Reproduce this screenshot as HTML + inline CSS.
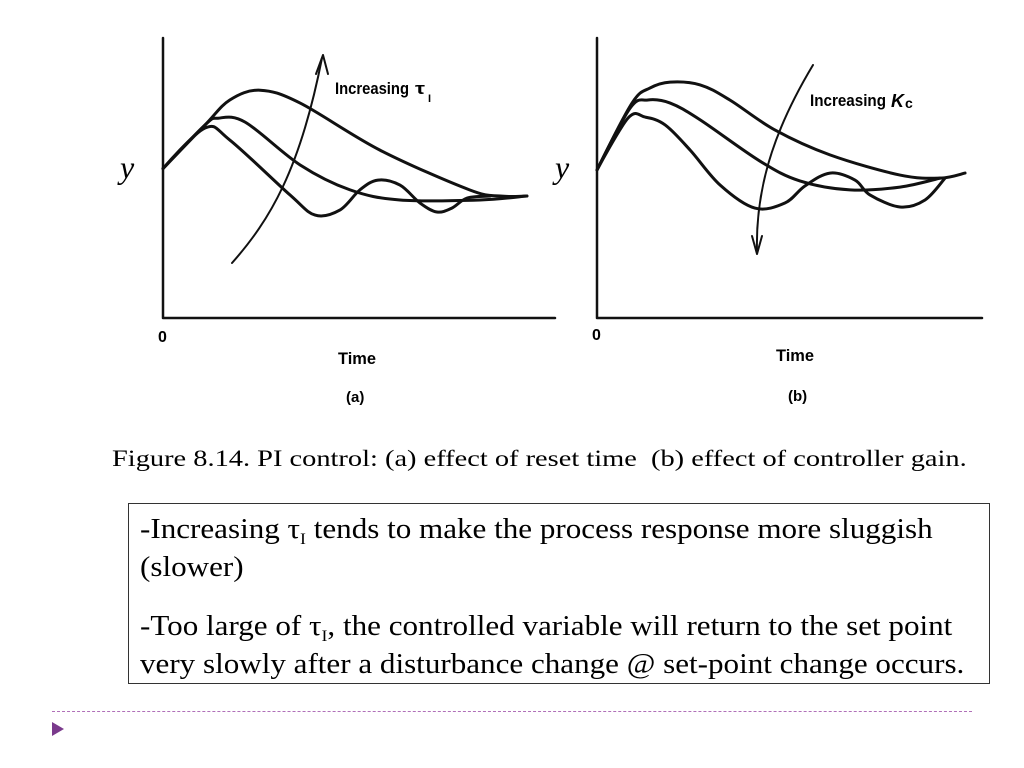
<!DOCTYPE html>
<html><head><meta charset="utf-8"><style>
body{margin:0;background:#fff;width:1024px;height:768px;overflow:hidden;position:relative;font-family:"Liberation Serif",serif}
.cap{position:absolute;left:112px;top:446px;font-size:23px;color:#000;white-space:nowrap;transform:scaleX(1.235);transform-origin:left top}
.box{position:absolute;left:128px;top:503px;width:862px;height:181px;border:1px solid #333;box-sizing:border-box}
.txt{position:absolute;left:11px;top:7px;font-size:28px;line-height:38px;white-space:nowrap;transform:scaleX(1.11);transform-origin:left top}
.txt p{margin:0 0 21px 0}
.txt sub{font-size:16px;line-height:0;vertical-align:baseline;position:relative;top:6px}
</style></head><body>
<svg id="chart" width="1024" height="440" style="position:absolute;left:0;top:0" xmlns="http://www.w3.org/2000/svg"></svg>
<div class="cap">Figure 8.14. PI control: (a) effect of reset time&nbsp; (b) effect of controller gain.</div>
<div class="box"><div class="txt">
<p>-Increasing τ<sub>I</sub> tends to make the process response more sluggish<br>(slower)</p>
<p>-Too large of τ<sub>I</sub>, the controlled variable will return to the set point<br>very slowly after a disturbance change @ set-point change occurs.</p>
</div></div>
<div style="position:absolute;left:52px;top:711px;width:920px;border-top:1px dashed #b070b8"></div>
<svg style="position:absolute;left:50px;top:720px" width="16" height="18"><polygon points="2,2 14,9 2,16" fill="#7a3a8c"/></svg>
<script>
// Panel (a): response vs time for three reset times (units 0..100)
const aT1=[0,10.7,17,24.7,34.9,55.2,78,85.8,92.6], aV1=[53,68.6,77.5,81,76.4,59.6,45.4,43.2,43.2];
const aT2=[0,10.7,14,20.9,34.9,47.6,60.3,80.7,92.6], aV2=[53,68.6,71,69.6,54.3,45.4,41.8,41.8,43.2];
const aT3=[0,10.7,17,32.3,38.7,45,50.1,54.7,60.3,65.4,69.7,73.5,77.4,83.2], aV3=[53,67.5,63.2,43.6,36.4,38.2,45.4,48.9,47.1,40.7,37.5,38.9,42.5,43.2];
// Panel (b): three controller gains
const bT1=[0,9.1,13.8,19,26.8,34.5,46.2,60.5,78.7,89.1,95.6], bV1=[52.5,76.4,81.8,83.9,82.9,77.5,66.8,57.9,50.7,49.6,51.4];
const bT2=[0,8.6,13.2,19,26.8,42.3,52.7,65.7,78.7,89.1], bV2=[52.5,74.6,77.5,76.4,70.4,55.7,48.6,45.4,46.4,49.6];
const bT3=[0,8.1,12.5,17.7,24.2,32,41,48.8,54,60.5,67,70.9,78.7,85.2,90.4], bV3=[52.5,71.1,71.4,68.6,59.6,47.1,38.9,40.7,46.8,51.4,48.9,43.6,39.3,41.8,49.6];
const svg=document.getElementById('chart');
const NS='http://www.w3.org/2000/svg';
function panel(x0,w){return {x:t=>x0+t*w/100,y:v=>317-v*2.8};}
const pa=panel(163,393), pb=panel(597,385);
function smooth(pts){let d='M'+pts[0][0]+','+pts[0][1];
 for(let i=0;i<pts.length-1;i++){const p0=pts[i-1]||pts[i],p1=pts[i],p2=pts[i+1],p3=pts[i+2]||p2;
  const k=i===0?0:1/6;
  d+=` C${p1[0]+(p2[0]-p0[0])*k},${p1[1]+(p2[1]-p0[1])*k} ${p2[0]-(p3[0]-p1[0])/6},${p2[1]-(p3[1]-p1[1])/6} ${p2[0]},${p2[1]}`;}
 return d;}
function path(d,name,sw){const p=document.createElementNS(NS,'path');p.setAttribute('d',d);p.setAttribute('fill','none');p.setAttribute('stroke','#111');p.setAttribute('stroke-width',sw||3);p.setAttribute('stroke-linecap','round');p.setAttribute('stroke-linejoin','round');
 
 
 svg.appendChild(p);return p;}
function curve(s,T,V,name){path(smooth(T.map((t,i)=>[s.x(t),s.y(V[i])])),name);}
function text(x,y,s,size,name,style,len){const t=document.createElementNS(NS,'text');t.setAttribute('x',x);t.setAttribute('y',y);t.setAttribute('font-size',size);t.setAttribute('font-family',style||'"Liberation Sans",sans-serif');t.setAttribute('font-weight',style?'normal':'bold');t.textContent=s;
 if(len){t.setAttribute('textLength',len);t.setAttribute('lengthAdjust','spacingAndGlyphs');}
 
 
 svg.appendChild(t);return t;}
path('M163,38 L163,318 L555,318','axes-a',2.5);
path('M597,38 L597,318 L982,318','axes-b',2.5);
curve(pa,aT1,aV1,'curve-a-1');curve(pa,aT2,aV2,'curve-a-2');curve(pa,aT3,aV3,'curve-a-3');
curve(pb,bT1,bV1,'curve-b-1');curve(pb,bT2,bV2,'curve-b-2');curve(pb,bT3,bV3,'curve-b-3');
path('M232,263 C270,220 300,170 322,58','arrow-a',2);
path('M316,74 L323,55 L328,74','arrow-a-head',2);
path('M813,65 C780,120 755,180 757,252','arrow-b',2);
path('M752,236 L757,254 L762,236','arrow-b-head',2);
text(335,94,'Increasing','17','label-increasing-tau',null,74);
text(415,94,'τ','17','label-tau',null,10);
text(428,102,'I','11','label-tau-sub');
text(810,106,'Increasing','17','label-increasing-kc',null,76);
text(891,107,'K','18','label-k').setAttribute('font-style','italic');
text(905,108,'c','14','label-kc-sub');
text(120,178,'y','32','y-axis-title-a','"Liberation Serif",serif').setAttribute('font-style','italic');
text(555,178,'y','32','y-axis-title-b','"Liberation Serif",serif').setAttribute('font-style','italic');
text(158,342,'0','16','x-origin-a');text(592,340,'0','16','x-origin-b');
text(338,364,'Time','17','x-axis-title-a',null,38);text(776,361,'Time','17','x-axis-title-b',null,38);
text(346,402,'(a)','15','panel-label-a');text(788,401,'(b)','15','panel-label-b');
</script>
</body></html>
